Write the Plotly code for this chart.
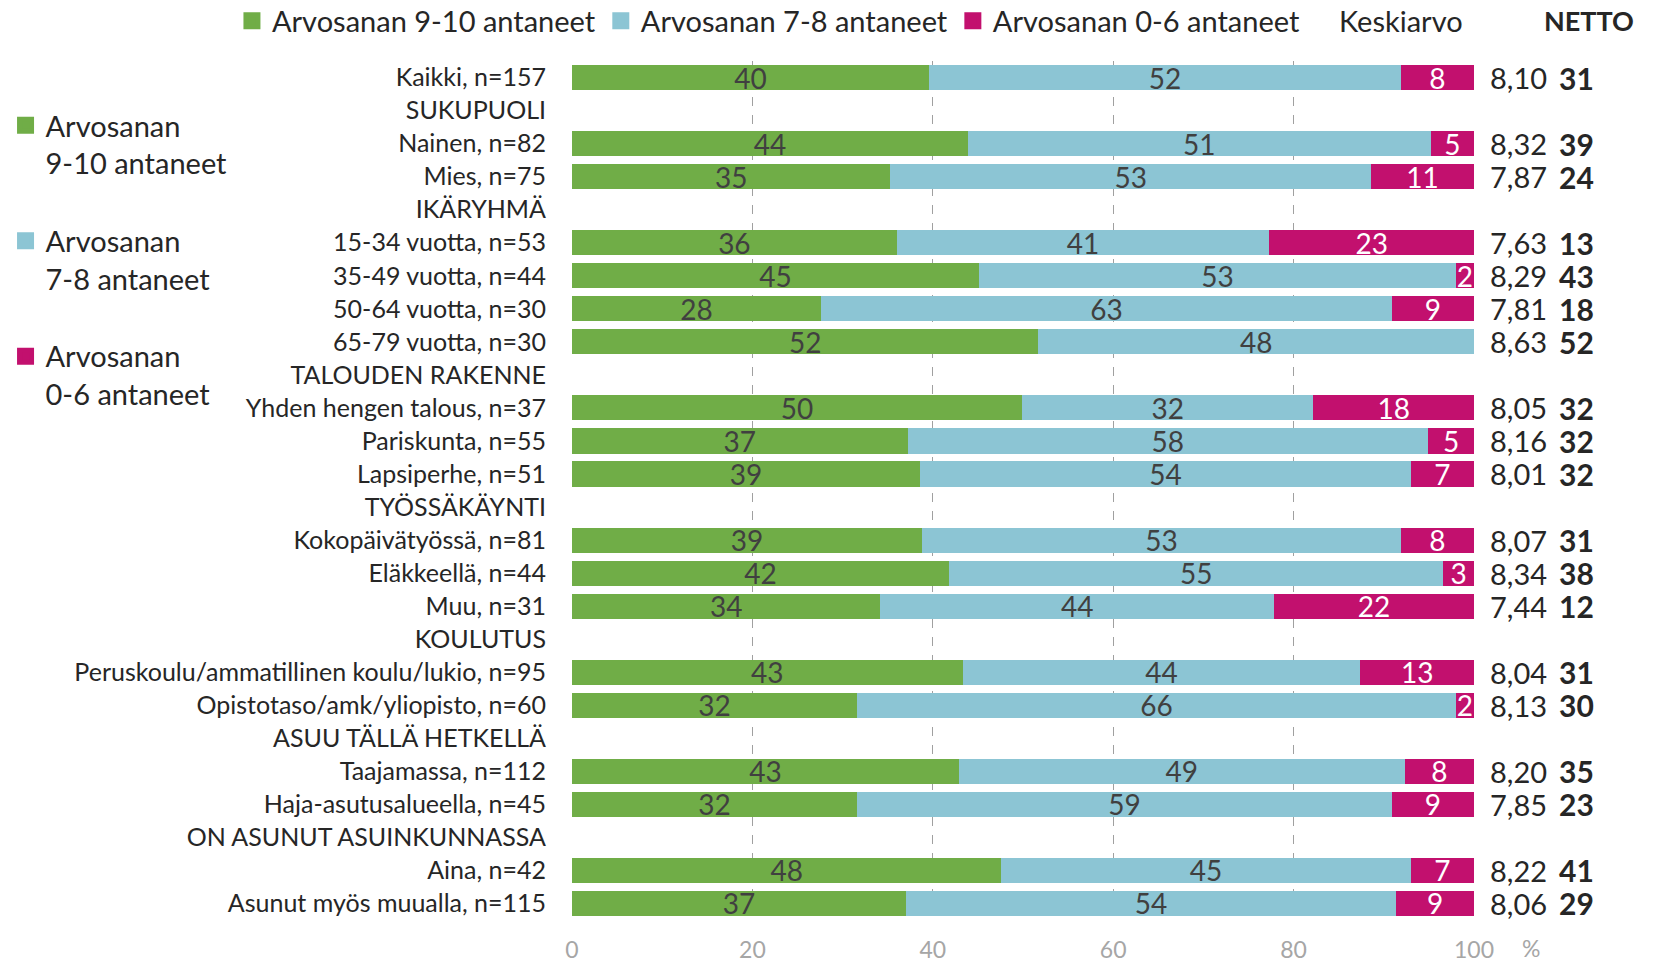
import plotly.graph_objects as go

# Row order (group headers have no bars)
categories = [
    "Kaikki, n=157",
    "SUKUPUOLI",
    "Nainen, n=82",
    "Mies, n=75",
    "IKÄRYHMÄ",
    "15-34 vuotta, n=53",
    "35-49 vuotta, n=44",
    "50-64 vuotta, n=30",
    "65-79 vuotta, n=30",
    "TALOUDEN RAKENNE",
    "Yhden hengen talous, n=37",
    "Pariskunta, n=55",
    "Lapsiperhe, n=51",
    "TYÖSSÄKÄYNTI",
    "Kokopäivätyössä, n=81",
    "Eläkkeellä, n=44",
    "Muu, n=31",
    "KOULUTUS",
    "Peruskoulu/ammatillinen koulu/lukio, n=95",
    "Opistotaso/amk/yliopisto, n=60",
    "ASUU TÄLLÄ HETKELLÄ",
    "Taajamassa, n=112",
    "Haja-asutusalueella, n=45",
    "ON ASUNUT ASUINKUNNASSA",
    "Aina, n=42",
    "Asunut myös muualla, n=115",
]

rows = [
    "Kaikki, n=157",
    "Nainen, n=82",
    "Mies, n=75",
    "15-34 vuotta, n=53",
    "35-49 vuotta, n=44",
    "50-64 vuotta, n=30",
    "65-79 vuotta, n=30",
    "Yhden hengen talous, n=37",
    "Pariskunta, n=55",
    "Lapsiperhe, n=51",
    "Kokopäivätyössä, n=81",
    "Eläkkeellä, n=44",
    "Muu, n=31",
    "Peruskoulu/ammatillinen koulu/lukio, n=95",
    "Opistotaso/amk/yliopisto, n=60",
    "Taajamassa, n=112",
    "Haja-asutusalueella, n=45",
    "Aina, n=42",
    "Asunut myös muualla, n=115",
]

grade_9_10 = [39.6, 43.9, 35.3, 36.0, 45.1, 27.6, 51.7, 49.9, 37.2, 38.6,
              38.8, 41.8, 34.2, 43.3, 31.6, 42.9, 31.6, 47.6, 37.0]
grade_7_8 = [52.3, 51.3, 53.3, 41.3, 52.9, 63.3, 48.3, 32.3, 57.7, 54.4,
             53.1, 54.8, 43.6, 44.1, 66.4, 49.4, 59.3, 45.4, 54.4]
grade_0_6 = [8.1, 4.8, 11.4, 22.7, 2.0, 9.1, 0.0, 17.8, 5.1, 7.0,
             8.1, 3.4, 22.2, 12.6, 2.0, 7.7, 9.1, 7.0, 8.6]

keskiarvo = [8.10, 8.32, 7.87, 7.63, 8.29, 7.81, 8.63, 8.05, 8.16, 8.01,
             8.07, 8.34, 7.44, 8.04, 8.13, 8.20, 7.85, 8.22, 8.06]
netto = [31, 39, 24, 13, 43, 18, 52, 32, 32, 32, 31, 38, 12, 31, 30, 35, 23, 41, 29]

x_ticks = [0, 20, 40, 60, 80, 100]

FONT = "Lato, 'Liberation Sans', Arial, sans-serif"
GREEN = "#70AD47"
BLUE = "#8CC5D4"
MAGENTA = "#C2106E"
TEXT = "#262626"

series = [
    ("Arvosanan 9-10 antaneet", "Arvosanan<br>9-10 antaneet", grade_9_10, GREEN, "#404040"),
    ("Arvosanan 7-8 antaneet", "Arvosanan<br>7-8 antaneet", grade_7_8, BLUE, "#404040"),
    ("Arvosanan 0-6 antaneet", "Arvosanan<br>0-6 antaneet", grade_0_6, MAGENTA, "white"),
]

fig = go.Figure()

for name, short, values, color, txt_color in series:
    fig.add_trace(go.Bar(
        x=values,
        y=rows,
        orientation='h',
        name=name,
        marker=dict(color=color, line=dict(width=0)),
        text=[f"{round(v):d}" for v in values],
        textposition='inside',
        insidetextanchor='middle',
        textangle=0,
        textfont=dict(family=FONT, size=28, color=txt_color),
        showlegend=False,
        hoverinfo='skip',
    ))

# legend entries (top row and left column)
for name, short, values, color, txt_color in series:
    fig.add_trace(go.Bar(
        x=[None], y=[None], orientation='h', name=name,
        marker=dict(color=color, line=dict(color=color, width=5)),
        legend='legend', showlegend=True, hoverinfo='skip',
    ))
for i, (name, short, values, color, txt_color) in enumerate(series):
    fig.add_trace(go.Bar(
        x=[None], y=[None], orientation='h', name=short,
        marker=dict(color=color, line=dict(color=color, width=5)),
        legend='legend2', legendgroup=f"g{i}", showlegend=True, hoverinfo='skip',
    ))

annotations = []
for row, k, n in zip(rows, keskiarvo, netto):
    annotations.append(dict(
        x=1.0496, y=row, xref='paper', yref='y', showarrow=False,
        text=f"{k:.2f}".replace('.', ','), xanchor='center', yanchor='middle',
        font=dict(family=FONT, size=29, color=TEXT),
    ))
    annotations.append(dict(
        x=1.1138, y=row, xref='paper', yref='y', showarrow=False,
        text=f"<b>{n}</b>", xanchor='center', yanchor='middle',
        font=dict(family=FONT, size=30, color=TEXT),
    ))

annotations += [
    dict(x=0.919, y=1.0466, xref='paper', yref='paper', showarrow=False,
         text="Keskiarvo", xanchor='center', yanchor='middle',
         font=dict(family=FONT, size=29, color=TEXT)),
    dict(x=1.1276, y=1.0466, xref='paper', yref='paper', showarrow=False,
         text="<b>NETTO</b>", xanchor='center', yanchor='middle',
         font=dict(family=FONT, size=27, color=TEXT)),
    dict(x=1.063, y=-0.033, xref='paper', yref='paper', showarrow=False,
         text="%", xanchor='center', yanchor='middle',
         font=dict(family=FONT, size=23, color='#A6A6A6')),
]

fig.update_layout(
    barmode='stack',
    bargap=0.24,
    width=1660,
    height=963,
    margin=dict(l=572, r=186, t=61, b=43, autoexpand=False),
    plot_bgcolor='white',
    paper_bgcolor='white',
    font=dict(family=FONT, size=25, color=TEXT),
    uniformtext=dict(minsize=28, mode='show'),
    xaxis=dict(
        range=[0, 100],
        tickvals=x_ticks,
        showgrid=True,
        gridcolor='#A0A0A0',
        griddash='dash',
        gridwidth=1,
        zeroline=False,
        showline=False,
        tickfont=dict(family=FONT, size=23, color='#A6A6A6'),
        ticklabelstandoff=14,
        fixedrange=True,
    ),
    yaxis=dict(
        categoryorder='array',
        categoryarray=categories,
        range=[len(categories) - 0.5, -0.5],
        showgrid=False,
        zeroline=False,
        showline=False,
        ticks='',
        ticklabelstandoff=25,
        tickfont=dict(family=FONT, size=25, color=TEXT),
        fixedrange=True,
    ),
    legend=dict(
        orientation='h',
        traceorder='normal',
        x=-0.377, xanchor='left',
        y=1.0466, yanchor='middle',
        font=dict(family=FONT, size=29, color=TEXT),
        bgcolor='rgba(0,0,0,0)',
        itemclick=False, itemdoubleclick=False,
    ),
    legend2=dict(
        orientation='v',
        x=-0.628, xanchor='left',
        y=0.9546, yanchor='top',
        font=dict(family=FONT, size=29, color=TEXT),
        traceorder='grouped',
        tracegroupgap=37,
        valign='top',
        bgcolor='rgba(0,0,0,0)',
        itemclick=False, itemdoubleclick=False,
    ),
    annotations=annotations,
)

# page body has a default 8px margin; remove it so the figure sits at the top-left corner
fig.write_html(
    "out.html",
    config={'displayModeBar': False},
    post_script="document.body.style.margin='0px';",
)
